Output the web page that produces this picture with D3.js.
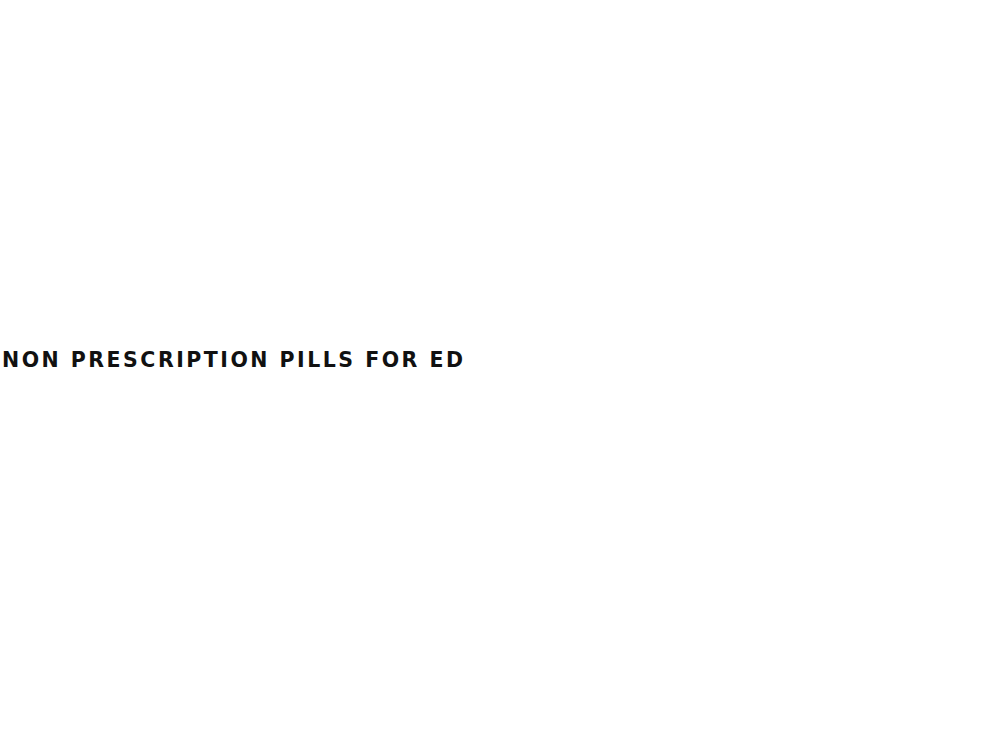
<!DOCTYPE html>
<html>
<head>
    <script src="https://cdn.jsdelivr.net/npm/d3@7"></script>
    <style>
        body { margin: 0; background: #fff; }
    </style>
</head>
<body>
    <div id="viz"></div>
    <script type="text/javascript">

    // the picture holds only one heading line, no series
    var titleWords = ["NON", "PRESCRIPTION", "PILLS", "FOR", "ED"];

    var svg = d3.select("#viz")
        .append("svg")
        .attr("width", 990)
        .attr("height", 737);

    svg.append("rect")
        .attr("width", 990)
        .attr("height", 737)
        .style("fill", "#ffffff");

    svg.append("text")
        .attr("x", 2)
        .attr("y", 367)
        .attr("textLength", 461)
        .attr("lengthAdjust", "spacing")
        .style("font-family", "'DejaVu Sans', sans-serif")
        .style("font-weight", "bold")
        .style("font-size", "20.5px")
        .style("fill", "#111")
        .text(titleWords.join(" "));

    </script>
</body>
</html>
